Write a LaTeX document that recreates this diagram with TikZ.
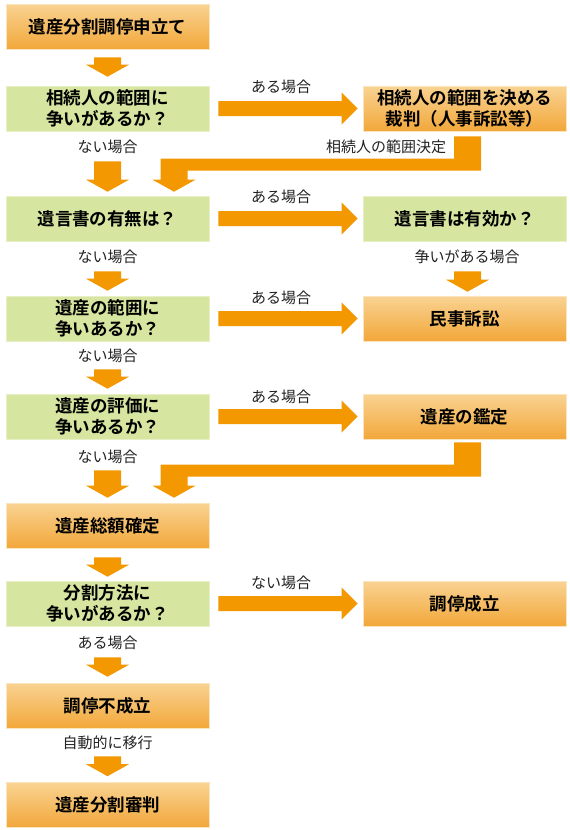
\documentclass[tikz,border=0pt]{standalone}
\usepackage{fontspec}
\newfontfamily\jp{Noto Sans CJK JP}[BoldFont={Noto Sans CJK JP Bold}]
\usetikzlibrary{calc}
\definecolor{arr}{HTML}{F39800}
\definecolor{otop}{HTML}{F9D392}
\definecolor{obot}{HTML}{F2A73A}
\definecolor{grn}{HTML}{D6E59F}
\definecolor{lbl}{HTML}{222222}
\newcommand\dnarr[2]{%
  \fill[arr] let \p1=(#1), \p2=(#2) in
    (\x1-13.5pt,\y1) -- (\x1+13.5pt,\y1) -- (\x1+13.5pt,\y2+12pt) -- (\x1+21.5pt,\y2+12pt)
    -- (\x1,\y2) -- (\x1-21.5pt,\y2+12pt) -- (\x1-13.5pt,\y2+12pt) -- cycle;}
\newcommand\rtarr[2]{%
  \fill[arr] let \p1=(#1), \p2=(#2) in
    (\x1,\y1-7.5pt) -- (\x2-16pt,\y1-7.5pt) -- (\x2-16pt,\y1-16pt) -- (\x2,\y1)
    -- (\x2-16pt,\y1+16pt) -- (\x2-16pt,\y1+7.5pt) -- (\x1,\y1+7.5pt) -- cycle;}
\newcommand\bentarr[2]{%
  \fill[arr] let \p1=(#1), \p2=(#2) in
    (\x1-13.5pt,\y1) -- (\x1+13.5pt,\y1) -- (\x1+13.5pt,\y2+21pt) -- (\x2+13.5pt,\y2+21pt)
    -- (\x2+13.5pt,\y2+12pt) -- (\x2+21.5pt,\y2+12pt) -- (\x2,\y2) -- (\x2-21.5pt,\y2+12pt)
    -- (\x2-13.5pt,\y2+12pt) -- (\x2-13.5pt,\y2+33pt) -- (\x1-13.5pt,\y2+33pt) -- cycle;}
\begin{document}
\begin{tikzpicture}[x=1pt,y=-1pt,
  box/.style={minimum width=203pt, minimum height=45pt, inner sep=0pt, align=center,
    font=\jp\bfseries\fontsize{17.5}{20.5}\selectfont, text=black},
  obox/.style={box, top color=otop, bottom color=obot, draw=otop!60!white, line width=0.6pt},
  gbox/.style={box, fill=grn, draw=grn!60!white, line width=0.6pt},
  lab/.style={font=\jp\fontsize{15}{18}\selectfont, text=lbl, inner sep=0pt}]
\fill[white] (0,0) rectangle (570,830);
\useasboundingbox (0,0) rectangle (570,830);
% left column
\node[obox] (b1) at (107.5,26.5) {遺産分割調停申立て};
\node[gbox] (b2) at (107.5,108.5) {相続人の範囲に\\争いがあるか？};
\node[gbox] (b4) at (107.5,218.5) {遺言書の有無は？};
\node[gbox] (b6) at (107.5,318.5) {遺産の範囲に\\争いあるか？};
\node[gbox] (b8) at (107.5,416.5) {遺産の評価に\\争いあるか？};
\node[obox] (b10) at (107.5,525.5) {遺産総額確定};
\node[gbox] (b11) at (107.5,603.5) {分割方法に\\争いがあるか？};
\node[obox] (b13) at (107.5,705.5) {調停不成立};
\node[obox] (b14) at (107.5,805) {遺産分割審判};
% right column
\node[obox] (r1) at (464.5,108.5) {相続人の範囲を決める\\裁判（人事訴訟等）};
\node[gbox] (r2) at (464.5,218.5) {遺言書は有効か？};
\node[obox] (r3) at (464.5,318.5) {民事訴訟};
\node[obox] (r4) at (464.5,416.5) {遺産の鑑定};
\node[obox] (r5) at (464.5,603.5) {調停成立};
% down arrows
\dnarr{$(b1.south)+(0,8)$}{$(b2.north)+(0,-9)$}
\dnarr{$(b2.south)+(0,30)$}{$(b4.north)+(0,-4)$}
\dnarr{$(b4.south)+(0,30)$}{$(b6.north)+(0,-5)$}
\dnarr{$(r2.south)+(3,30)$}{$(r3.north)+(3,-4)$}
\dnarr{$(b6.south)+(0,28)$}{$(b8.north)+(0,-5)$}
\dnarr{$(b8.south)+(0,31)$}{$(b10.north)+(0,-5)$}
\dnarr{$(b10.south)+(0,9)$}{$(b11.north)+(0,-4)$}
\dnarr{$(b11.south)+(0,31)$}{$(b13.north)+(0,-6)$}
\dnarr{$(b13.south)+(0,28)$}{$(b14.north)+(0,-6)$}
% right arrows
\rtarr{$(b2.east)+(9,0)$}{$(r1.west)+(-5,0)$}
\rtarr{$(b4.east)+(9,0)$}{$(r2.west)+(-5,0)$}
\rtarr{$(b6.east)+(9,0)$}{$(r3.west)+(-5,0)$}
\rtarr{$(b8.east)+(9,0)$}{$(r4.west)+(-5,0)$}
\rtarr{$(b11.east)+(9,0)$}{$(r5.west)+(-5,0)$}
% bent arrows
\bentarr{$(r1.south)+(3,5)$}{$(b4.north)+(66.5,-4)$}
\bentarr{$(r4.south)+(3,3)$}{$(b10.north)+(66.5,-5)$}
% labels
\node[lab] (l1) at (281,87) {ある場合};
\node[lab] (l2) at (107.5,147) {ない場合};
\node[lab] (l3) at (386,147) {相続人の範囲決定};
\node[lab] (l4) at (281,197) {ある場合};
\node[lab] (l5) at (107.5,257) {ない場合};
\node[lab] (l6) at (467,257) {争いがある場合};
\node[lab] (l7) at (281,298) {ある場合};
\node[lab] (l8) at (107.5,356) {ない場合};
\node[lab] (l9) at (281,397) {ある場合};
\node[lab] (l10) at (107.5,457) {ない場合};
\node[lab] (l11) at (281,583) {ない場合};
\node[lab] (l12) at (107.5,643) {ある場合};
\node[lab] (l13) at (107.5,743) {自動的に移行};
\end{tikzpicture}
\end{document}
